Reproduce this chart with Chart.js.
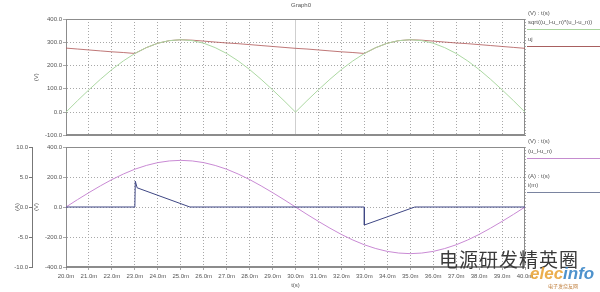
<!DOCTYPE html>
<html>
<head>
<meta charset="utf-8">
<script src="https://cdn.jsdelivr.net/npm/chart.js@4.4.0/dist/chart.umd.min.js"></script>
<style>
body { margin: 0; width: 600px; height: 292px; background: #fff; position: relative; overflow: hidden; font-family: "Liberation Sans", Arial, sans-serif; }
canvas { position: absolute; left: 0; }
#grafTop { top: 0; }
#grafBot { top: 140px; }
.t { position: absolute; font-size: 6px; color: #555; white-space: nowrap; line-height: 1; }
.ln { position: absolute; height: 1px; left: 527px; width: 73px; }
.wm { position: absolute; left: 439px; top: 249px; font-size: 19px; color: #3a3a3a; font-family: "Noto Sans CJK SC", sans-serif; line-height: 1; letter-spacing: 1px; }
.logo { position: absolute; left: 530px; top: 265px; font-size: 17px; font-weight: bold; font-style: italic; line-height: 1; font-family: "Liberation Sans", Arial, sans-serif; opacity: 0.85; }
.logo2 { position: absolute; left: 548px; top: 283px; font-size: 5px; color: #c08040; font-family: "Noto Sans CJK SC", sans-serif; line-height: 1; }
</style>
</head>
<body>
<canvas id="grafTop" width="600" height="140"></canvas>
<canvas id="grafBot" width="600" height="152"></canvas>

<div class="t" style="left:291px;top:2px;">Graph0</div>

<div class="t" style="left:528px;top:10px;">(V) : t(s)</div>
<div class="t" style="left:528px;top:19px;">sqrt((u_l-u_n)*(u_l-u_n))</div>
<div class="ln" style="top:29px;background:#a8d49c;"></div>
<div class="t" style="left:528px;top:36px;">uj</div>
<div class="ln" style="top:46px;background:#a86060;"></div>

<div class="t" style="left:528px;top:138px;">(V) : t(s)</div>
<div class="t" style="left:528px;top:148px;">(u_l-u_n)</div>
<div class="ln" style="top:158px;background:#c58ccf;"></div>
<div class="t" style="left:528px;top:173px;">(A) : t(s)</div>
<div class="t" style="left:528px;top:182px;">i(m)</div>
<div class="ln" style="top:192px;background:#7a84a0;"></div>

<div class="wm">电源研发精英圈</div>
<div class="logo"><span style="color:#e8a030;">elec</span><span style="color:#2f7fc4;">info</span></div>
<div class="logo2">电子发烧友网</div>

<script>
// tempi in ms (asse x)
const tempi = [20, 20.5, 21, 21.5, 22, 22.5, 23, 23.5, 24, 24.5, 25, 25.5, 26, 26.5, 27, 27.5, 28, 28.5, 29, 29.5,
               30, 30.5, 31, 31.5, 32, 32.5, 33, 33.5, 34, 34.5, 35, 35.5, 36, 36.5, 37, 37.5, 38, 38.5, 39, 39.5, 40];

// sqrt((u_l-u_n)*(u_l-u_n)) (V)
const tensioneAbs = [0, 49, 96, 141, 183, 220, 252, 277, 296, 307, 311, 307, 296, 277, 252, 220, 183, 141, 96, 49,
                     0, 49, 96, 141, 183, 220, 252, 277, 296, 307, 311, 307, 296, 277, 252, 220, 183, 141, 96, 49, 0];

// uj (V)
const uj = [275, 271, 267, 263, 259, 256, 252, 277, 296, 307, 311, 309, 305, 301, 297, 294, 290, 286, 282, 278,
            274, 271, 267, 263, 259, 256, 252, 277, 296, 307, 311, 309, 305, 301, 297, 294, 290, 286, 282, 278, 274];

// u_l-u_n (V)
const tensioneRete = [0, 49, 96, 141, 183, 220, 252, 277, 296, 307, 311, 307, 296, 277, 252, 220, 183, 141, 96, 49,
                      0, -49, -96, -141, -183, -220, -252, -277, -296, -307, -311, -307, -296, -277, -252, -220, -183, -141, -96, -49, 0];

// i(m) (A) - tempi a parte perche ci sono i salti
const tempiCorrente = [20, 23, 23.02, 23.1, 25.4, 33, 33, 35.2, 40];
const corrente = [0, 0, 4.3, 3.2, 0, 0, -3.0, 0, 0];

// tick
const tickTopV = [-100, 0, 100, 200, 300, 400];
const tickBotV = [-400, -200, 0, 200, 400];
const tickBotA = [-10, -5, 0, 5, 10];

const VERDE = "#acd8a2";
const ROSSO = "rgba(175, 85, 85, 0.8)";
const VIOLA = "#c98ad4";
const BLU = "#3f4784";
const GRIGLIA = "#a8a8a8";
const TESTO = "#555";
const FONT = { family: "'Liberation Sans', Arial, sans-serif", size: 6 };

function punti(xs, ys) {
    return xs.map(function (x, i) { return { x: x, y: ys[i] }; });
}

// cornice grigia attorno all'area del grafico
const cornice = {
    id: "cornice",
    beforeDatasetsDraw(chart) {
        const a = chart.chartArea;
        const ctx = chart.ctx;
        ctx.save();
        ctx.setLineDash([]);
        ctx.strokeStyle = "#8c8c8c";
        ctx.lineWidth = 1;
        ctx.strokeRect(Math.round(a.left) + 0.5, Math.round(a.top) + 0.5, Math.round(a.right - a.left) - 1, Math.round(a.bottom - a.top) - 1);
        ctx.restore();
    }
};

function tickFissi(valori) {
    return function (scale) {
        scale.ticks = valori.map(function (v) { return { value: v }; });
    };
}

const lineaBase = { borderWidth: 1, pointRadius: 0, tension: 0, fill: false };

// grafico sopra (il primo dataset viene disegnato sopra)
new Chart(document.getElementById("grafTop"), {
    type: "line",
    data: {
        datasets: [
            Object.assign({ label: "sqrt((u_l-u_n)*(u_l-u_n))", data: punti(tempi, tensioneAbs), borderColor: VERDE }, lineaBase),
            Object.assign({ label: "uj", data: punti(tempi, uj), borderColor: ROSSO }, lineaBase)
        ]
    },
    options: {
        responsive: false,
        animation: false,
        devicePixelRatio: 1,
        layout: { padding: { top: 19, right: 75, left: 0, bottom: 0 } },
        plugins: { legend: { display: false }, tooltip: { enabled: false } },
        scales: {
            x: {
                type: "linear", min: 20, max: 40,
                ticks: { display: false, stepSize: 1 },
                grid: {
                    color: function (c) { return c.tick && c.tick.value === 30 ? "#cfcfcf" : GRIGLIA; },
                    drawTicks: false
                },
                border: {
                    color: "#8c8c8c",
                    dash: function (c) { return c.tick && c.tick.value === 30 ? [] : [1, 2]; }
                },
                afterFit: function (s) { s.height = 3; }
            },
            y: {
                min: -100, max: 400,
                afterBuildTicks: tickFissi(tickTopV),
                ticks: { font: FONT, color: TESTO, padding: 1, callback: function (v) { return v.toFixed(1); } },
                grid: { color: GRIGLIA, tickLength: 3 },
                border: { color: "#777", dash: [1, 2] },
                title: { display: true, text: "(V)", font: FONT, color: TESTO, padding: { top: 33, bottom: 0 } },
                afterFit: function (s) { s.width = 66; }
            }
        }
    },
    plugins: [cornice]
});

// grafico sotto
new Chart(document.getElementById("grafBot"), {
    type: "line",
    data: {
        datasets: [
            Object.assign({ label: "i(m)", data: punti(tempiCorrente, corrente), borderColor: BLU, yAxisID: "yA" }, lineaBase),
            Object.assign({ label: "(u_l-u_n)", data: punti(tempi, tensioneRete), borderColor: VIOLA, yAxisID: "yV" }, lineaBase)
        ]
    },
    options: {
        responsive: false,
        animation: false,
        devicePixelRatio: 1,
        layout: { padding: { top: 7, right: 75, left: 0, bottom: 0 } },
        plugins: { legend: { display: false }, tooltip: { enabled: false } },
        scales: {
            x: {
                type: "linear", min: 20, max: 40,
                ticks: { stepSize: 1, autoSkip: false, maxRotation: 0, font: FONT, color: TESTO, padding: 3,
                         callback: function (v) { return v.toFixed(1) + "m"; } },
                grid: { color: GRIGLIA, tickLength: 3 },
                border: { color: "#8c8c8c", dash: [1, 2] },
                title: { display: true, text: "t(s)", font: FONT, color: TESTO, padding: { top: 0, bottom: 3 } },
                afterFit: function (s) { s.height = 25; }
            },
            yV: {
                position: "left", weight: 0,
                min: -400, max: 400,
                afterBuildTicks: tickFissi(tickBotV),
                ticks: { font: FONT, color: TESTO, padding: 1, callback: function (v) { return v.toFixed(1); } },
                grid: { color: GRIGLIA, tickLength: 3 },
                border: { color: "#777", dash: [1, 2] },
                title: { display: true, text: "(V)", font: FONT, color: TESTO, padding: { top: 1, bottom: 0 } },
                afterFit: function (s) { s.width = 34; }
            },
            yA: {
                position: "left", weight: 1,
                min: -10, max: 10,
                afterBuildTicks: tickFissi(tickBotA),
                ticks: { font: FONT, color: TESTO, padding: 1, callback: function (v) { return v.toFixed(1); } },
                grid: { drawOnChartArea: false, color: "#777", tickLength: 3 },
                border: { color: "#777" },
                title: { display: true, text: "(A)", font: FONT, color: TESTO, padding: { top: 14, bottom: 0 } },
                afterFit: function (s) { s.width = 32; }
            }
        }
    },
    plugins: [cornice]
});
</script>
</body>
</html>
